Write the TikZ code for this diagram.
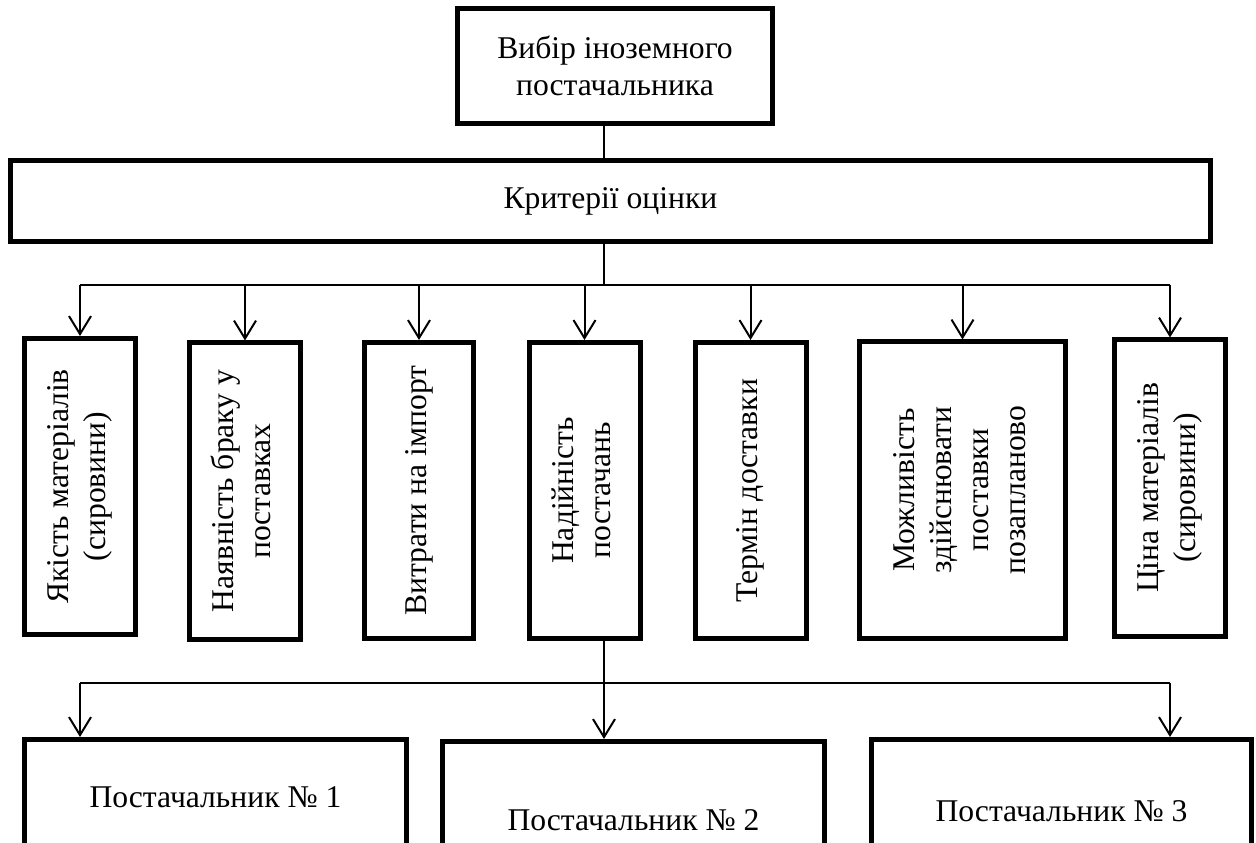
\documentclass[tikz,border=0pt]{standalone}
\usepackage{graphicx}
\usepackage{fontspec}
\setmainfont{Liberation Serif}
\usepackage{tikz}
\usetikzlibrary{positioning, arrows.meta}

\newcommand{\vtext}[1]{\rotatebox{90}{\begin{tabular}{@{}c@{}}#1\end{tabular}}}

\begin{document}
\begin{tikzpicture}[
        x=0.2mm, y=-0.2mm,
        block/.style={rectangle, draw, line width=1mm, inner sep=0pt, align=center},
        critbox/.style={block, minimum width=22.2mm, minimum height=59.2mm},
        supbox/.style={block, minimum width=76.4mm},
        link/.style={line width=0.4mm},
        arrow/.style={link, -{Straight Barb[length=3.6mm, width=4.4mm]}},
        every node/.style={font=\fontsize{18}{21}\selectfont}
    ]
        \useasboundingbox (0,0) rectangle (1256,843);

        % Blocks
        \node[block, minimum width=63mm, minimum height=23mm] (choice) at (615,66) {Вибір іноземного\\постачальника};
        \node[block, minimum width=240mm, minimum height=16.2mm] (criteria) at (610.5,201) {Критерії оцінки};

        % criteria
        \node[critbox] (quality) at (80,486.5) {\vtext{Якість матеріалів\\(сировини)}};
        \node[critbox] (defects) at (245,491) {\vtext{Наявність браку у\\поставках}};
        \node[critbox, minimum width=21.8mm] (costs) at (419,490.5) {\vtext{Витрати на імпорт}};
        \node[critbox] (reliab) at (584.5,490.5) {\vtext{Надійність\\постачань}};
        \node[critbox] (term) at (750.5,490.5) {\vtext{Термін доставки}};
        \node[critbox, minimum width=41.2mm] (extra) at (962.5,490) {\vtext{Можливість\\здійснювати\\поставки\\позапланово}};
        \node[critbox] (price) at (1170,488) {\vtext{Ціна матеріалів\\(сировини)}};

        % suppliers
        \node[supbox, minimum height=23mm] (sup1) at (215.5,797) {Постачальник № 1};
        \node[supbox, minimum height=31.4mm] (sup2) at (633.5,820) {Постачальник № 2};
        \node[supbox, minimum width=76mm, minimum height=28.6mm] (sup3) at (1061.5,811) {Постачальник № 3};

        % branch points
        \coordinate (upper) at (604,285);
        \coordinate (lower) at (604,683);

        \draw[link] (choice.south -| upper) -- (criteria.north -| upper);
        \draw[link] (criteria.south -| upper) -- (upper);
        \draw[link] (quality.north |- upper) -- (price.north |- upper);

        \draw[arrow] (quality.north |- upper) -- (quality.north);
        \draw[arrow] (defects.north |- upper) -- (defects.north);
        \draw[arrow] (costs.north |- upper) -- (costs.north);
        \draw[arrow] (reliab.north |- upper) -- (reliab.north);
        \draw[arrow] (term.north |- upper) -- (term.north);
        \draw[arrow] (extra.north |- upper) -- (extra.north);
        \draw[arrow] (price.north |- upper) -- (price.north);

        \draw[link] (reliab.south -| lower) -- (lower);
        \draw[link] (quality.south |- lower) -- (price.south |- lower);

        \draw[arrow] (quality.south |- lower) -- (quality.south |- sup1.north);
        \draw[arrow] (lower) -- (lower |- sup2.north);
        \draw[arrow] (price.south |- lower) -- (price.south |- sup3.north);

    \end{tikzpicture}
\end{document}
